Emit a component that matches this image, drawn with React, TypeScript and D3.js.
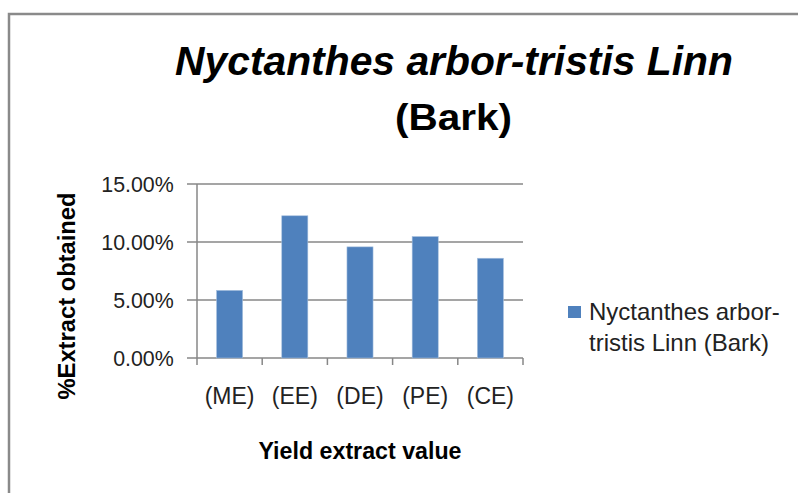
import React from 'react';
import * as d3 from 'd3';

const categories = ['(ME)', '(EE)', '(DE)', '(PE)', '(CE)'];
const values = [0.0583, 0.1226, 0.0958, 0.1047, 0.086];
const yTicks = [0, 0.05, 0.1, 0.15];
const legendLines = ['Nyctanthes arbor-', 'tristis Linn (Bark)'];

const W = 798;
const H = 493;
const FONT = '"Liberation Sans", Arial, sans-serif';

export default function App() {
  const margin = { top: 184, left: 197, right: 275, bottom: 135 };
  const plotW = W - margin.left - margin.right;
  const plotH = H - margin.top - margin.bottom;

  const x = d3.scaleBand().domain(categories).range([0, plotW]).paddingInner(0.6).paddingOuter(0.3);
  const xb = d3.scaleBand().domain(categories).range([0, plotW]);
  const y = d3.scaleLinear().domain([0, 0.15]).range([plotH, 0]);
  const fmt = d3.format('.2%');
  const grid = '#878787';

  return (
    <svg width={W} height={H} style={{ position: 'absolute', left: 0, top: 0, background: '#fff' }}>
      <rect x={0} y={0} width={W} height={H} fill="#fff" />
      {/* chart border */}
      <path d={`M9,${H + 5} V14 H${W + 5}`} fill="none" stroke="#8a8a8a" strokeWidth={2.5} />

      <text
        x={175}
        y={75}
        fontFamily={FONT}
        fontSize={40}
        fontWeight="bold"
        fontStyle="italic"
        textLength={558}
        lengthAdjust="spacingAndGlyphs"
      >
        Nyctanthes arbor-tristis Linn
      </text>
      <text
        x={395}
        y={130}
        fontFamily={FONT}
        fontSize={37}
        fontWeight="bold"
        textLength={117}
        lengthAdjust="spacingAndGlyphs"
      >
        (Bark)
      </text>

      <g transform={`translate(${margin.left},${margin.top})`}>
        {yTicks.map((t) => (
          <g key={t}>
            <line x1={-10} x2={plotW} y1={y(t)} y2={y(t)} stroke={grid} strokeWidth={1.5} />
            <text
              x={-25}
              y={y(t)}
              dy="0.36em"
              textAnchor="end"
              fontFamily={FONT}
              fontSize={23}
              fill="#222"
              transform={`translate(${-25 * -0.07},0) scale(0.93,1)`}
              style={{ transformBox: 'fill-box', transformOrigin: 'right' }}
            >
              {fmt(t)}
            </text>
          </g>
        ))}
        <line x1={0} x2={0} y1={0} y2={plotH} stroke={grid} strokeWidth={1.5} />
        {[...categories.map((c) => xb(c) as number), plotW].map((px, i) => (
          <line key={i} x1={px} x2={px} y1={plotH} y2={plotH + 7} stroke={grid} strokeWidth={1.5} />
        ))}
        {categories.map((c, i) => (
          <rect
            key={c}
            x={x(c)}
            y={y(values[i])}
            width={x.bandwidth()}
            height={plotH - y(values[i])}
            fill="#4f81bd"
            stroke="#a7c0de"
            strokeWidth={0.6}
          />
        ))}
        {categories.map((c) => (
          <text
            key={c}
            x={(xb(c) as number) + xb.bandwidth() / 2}
            y={plotH + 38}
            dy="0.35em"
            textAnchor="middle"
            fontFamily={FONT}
            fontSize={23}
            fill="#222"
          >
            {c}
          </text>
        ))}
        <text
          x={plotW / 2}
          y={plotH + 101}
          textAnchor="middle"
          fontFamily={FONT}
          fontSize={23}
          fontWeight="bold"
          textLength={203}
          lengthAdjust="spacingAndGlyphs"
        >
          Yield extract value
        </text>
      </g>

      <text
        transform={`translate(75,${296}) rotate(-90)`}
        textAnchor="middle"
        fontFamily={FONT}
        fontSize={24}
        fontWeight="bold"
        textLength={207}
        lengthAdjust="spacingAndGlyphs"
      >
        %Extract obtained
      </text>

      {/* legend */}
      <rect x={568} y={306} width={13} height={12} fill="#4f81bd" />
      <text fontFamily={FONT} fontSize={24} fill="#222">
        {legendLines.map((l, i) => (
          <tspan key={l} x={589} y={320 + i * 31}>
            {l}
          </tspan>
        ))}
      </text>
    </svg>
  );
}
